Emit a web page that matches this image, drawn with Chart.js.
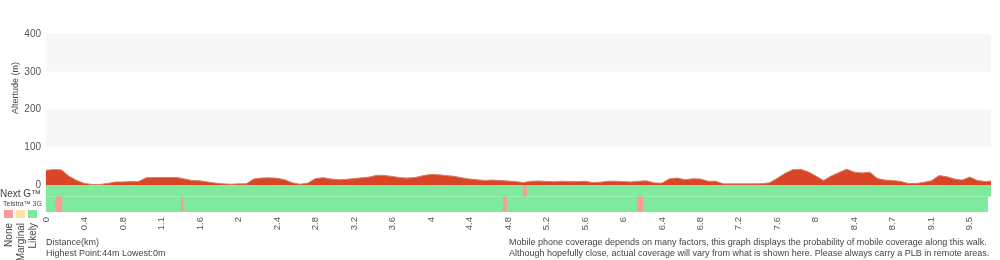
<!DOCTYPE html>
<html>
<head>
<meta charset="utf-8">
<script src="https://cdn.jsdelivr.net/npm/chart.js@4/dist/chart.umd.min.js"></script>
<style>
  body { margin: 0; background: #fff; }
  #wrap { position: relative; width: 1000px; height: 260px; font-family: "Liberation Sans", Arial, sans-serif; color: #444; }
  .t { position: absolute; white-space: nowrap; font-size: 9px; line-height: 11px; }
  .rot { position: absolute; white-space: nowrap; transform: rotate(-90deg); transform-origin: 0 0; }
  .sq { position: absolute; width: 9px; height: 8px; top: 210px; }
</style>
</head>
<body>
<div id="wrap">
  <canvas id="chart" width="1000" height="260"></canvas>

  <div class="rot" style="left:9px; top:138px; width:100px; text-align:center; font-size:9px; line-height:12px;">Altertude (m)</div>
  <div class="t" style="left:0px; top:188px; font-size:10px;">Next G™</div>
  <div class="t" style="left:3px; top:200px; font-size:7px; line-height:8px;">Telstra™ 3G</div>

  <div class="sq" style="left:4px; background:#fc9a98;"></div>
  <div class="sq" style="left:16px; background:#fde3a6;"></div>
  <div class="sq" style="left:28px; background:#7eea9b;"></div>
  <div class="rot" style="left:3px; top:283px; width:60px; text-align:right; font-size:10px; line-height:11px;">None</div>
  <div class="rot" style="left:15px; top:283px; width:60px; text-align:right; font-size:10px; line-height:11px;">Marginal</div>
  <div class="rot" style="left:27px; top:283px; width:60px; text-align:right; font-size:10px; line-height:11px;">Likely</div>

  <div class="t" style="left:46px; top:237px;">Distance(km)<br>Highest Point:44m Lowest:0m</div>
  <div class="t" style="left:509px; top:237px;">Mobile phone coverage depends on many factors, this graph displays the probability of mobile coverage along this walk.<br>Although hopefully close, actual coverage will vary from what is shown here. Please always carry a PLB in remote areas.</div>
</div>

<script>
// tick labels (km), one every 5 samples
var tickLabels = ['0', '0.4', '0.8', '1.1', '1.6', '2', '2.4', '2.8', '3.2', '3.6', '4', '4.4', '4.8',
    '5.2', '5.6', '6', '6.4', '6.8', '7.2', '7.6', '8', '8.4', '8.7', '9.1', '9.5'];
var SAMPLES_PER_TICK = 5;

// altitude (m)
var elevation = [
    39, 41, 40, 23, 12, 4, 1.5, 1.5, 4, 8,
    8, 9, 9, 19, 20, 20, 20, 20, 16, 12,
    11, 8, 5, 3, 2, 3, 3, 16, 18.5, 19,
    18, 14, 6, 2, 5, 17, 19.5, 16, 14, 15,
    17, 19, 21, 26, 25.5, 22.5, 19.5, 18.5, 20, 25,
    28, 27, 25, 23, 19, 16, 14, 12, 13, 12,
    10.5, 9, 6.5, 10, 10.5, 9.5, 8.5, 10, 9, 9,
    10, 6.5, 7.5, 10, 10, 9, 8, 10, 11, 5.5,
    5, 16.5, 18.5, 14, 16.5, 16, 10, 10, 3, 3,
    3, 3, 3, 3.5, 6, 18, 31, 40.5, 41.5, 35,
    24, 12, 24, 33, 42, 34, 32, 34, 17, 13,
    12, 9.5, 4, 4, 7, 11, 25, 22, 16, 13,
    21, 12, 9, 11
];

// coverage: gaps with no signal, in tick units
var nextGNone = [[12.39, 12.49]];
var telstra3GNone = [[0.25, 0.42], [3.51, 3.56], [11.87, 11.97], [15.35, 15.51]];
var nextGEnd = 24.55;
var telstra3GEnd = 24.47;
var nextGRow = [0, -30.5];
var telstra3GRow = [-30.5, -71.5];

var colLikely = '#7eea9b';
var colNone = '#fc9a98';
var bandColor = '#f7f7f7';

var points = elevation.map(function (v, i) {
    return { x: i / SAMPLES_PER_TICK, y: v };
});

var backdrop = {
    id: 'backdrop',
    beforeDatasetsDraw: function (chart) {
        var ctx = chart.ctx, a = chart.chartArea;
        var xs = chart.scales.x, ys = chart.scales.y;
        ctx.save();
        // grey bands 100-200 and 300-400
        ctx.fillStyle = bandColor;
        [[100, 200], [300, 400]].forEach(function (b) {
            var y1 = ys.getPixelForValue(b[1]), y0 = ys.getPixelForValue(b[0]);
            ctx.fillRect(a.left, y1, a.right - a.left, y0 - y1);
        });

        function row(range, end, gaps) {
            var top = ys.getPixelForValue(range[0]);
            var bot = ys.getPixelForValue(range[1]);
            ctx.fillStyle = colLikely;
            ctx.fillRect(a.left, top, xs.getPixelForValue(end) - a.left, bot - top);
            ctx.fillStyle = colNone;
            gaps.forEach(function (g) {
                var x0 = xs.getPixelForValue(g[0]), x1 = xs.getPixelForValue(g[1]);
                ctx.fillRect(x0, top, x1 - x0, bot - top);
            });
        }
        row(nextGRow, nextGEnd, nextGNone);
        row(telstra3GRow, telstra3GEnd, telstra3GNone);
        ctx.restore();
    }
};

new Chart(document.getElementById('chart'), {
    type: 'line',
    data: {
        datasets: [{
            data: points,
            fill: 'origin',
            backgroundColor: '#d94627',
            borderColor: '#e07a63',
            borderWidth: 1,
            pointRadius: 0,
            tension: 0
        }]
    },
    options: {
        responsive: false,
        animation: false,
        layout: { padding: { top: 34, right: 9, left: 0, bottom: 0 } },
        plugins: { legend: { display: false }, tooltip: { enabled: false } },
        scales: {
            x: {
                type: 'linear',
                min: 0,
                max: nextGEnd,
                grid: { display: false, drawTicks: false },
                border: { display: false },
                afterFit: function (s) {
                    s.height = 48;
                    s.paddingLeft = 0;
                    s.paddingRight = 0;
                },
                ticks: {
                    stepSize: 1,
                    autoSkip: false,
                    minRotation: 90,
                    maxRotation: 90,
                    padding: 5,
                    color: '#555',
                    font: { family: 'Liberation Sans', size: 9.5 },
                    callback: function (v) { return tickLabels[v] !== undefined ? tickLabels[v] : ''; }
                }
            },
            y: {
                min: telstra3GRow[1],
                max: 400,
                grid: { display: false, drawTicks: false },
                border: { display: false },
                afterFit: function (s) { s.width = 46; },
                afterBuildTicks: function (s) {
                    s.ticks = [0, 100, 200, 300, 400].map(function (v) { return { value: v }; });
                },
                ticks: {
                    padding: 5,
                    color: '#555',
                    font: { family: 'Liberation Sans', size: 10 }
                }
            }
        }
    },
    plugins: [backdrop]
});
</script>
</body>
</html>
